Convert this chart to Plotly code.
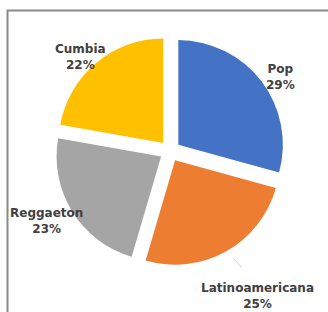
import plotly.graph_objects as go

labels = ["Pop", "Latinoamericana", "Reggaeton", "Cumbia"]
values = [29, 25, 23, 22]
pct_text = ["29%", "25%", "23%", "22%"]
colors = ["#4472C4", "#ED7D31", "#A5A5A5", "#FFC000"]

W, H = 328, 312
# label centres in pixels (layout only)
label_pos = [(280, 77), (257, 296), (47, 221), (80, 57)]
R = 115

fig = go.Figure(go.Pie(
    labels=labels, values=values, sort=False, direction="clockwise", rotation=0,
    marker=dict(colors=colors, line=dict(width=0)),
    pull=[0.1] * len(values), textinfo="none", hoverinfo="label+percent",
    domain=dict(x=[(170 - R) / W, (170 + R) / W],
                y=[(161 - R) / H, (161 + R) / H]),
    showlegend=False,
))

anns = []
for lab, pct, (px, py) in zip(labels, pct_text, label_pos):
    anns.append(dict(x=px / W, y=1 - py / H, xref="paper", yref="paper",
                     text=f"<b>{lab}<br>{pct}</b>", showarrow=False,
                     xanchor="center", yanchor="middle", align="center",
                     font=dict(family="DejaVu Sans", size=12, color="#404040")))
# faint leader line for Latinoamericana
anns.append(dict(x=233 / W, y=1 - 258 / H, xref="paper", yref="paper", text="",
                 showarrow=True, arrowhead=0, arrowwidth=1, arrowcolor="#c8d4dc",
                 ax=10, ay=11))

fig.update_layout(
    width=W, height=H, margin=dict(l=0, r=0, t=0, b=0),
    paper_bgcolor="white", plot_bgcolor="white",
    annotations=anns,
    shapes=[dict(type="rect", xref="paper", yref="paper",
                 x0=7.5 / W, x1=1.05, y0=-0.05, y1=1 - 10.5 / H,
                 line=dict(color="#8a8a8a", width=2))],
)

fig.write_html("out.html", config={"displayModeBar": False},
               post_script="document.body.style.margin='0';document.body.style.overflow='hidden';")
